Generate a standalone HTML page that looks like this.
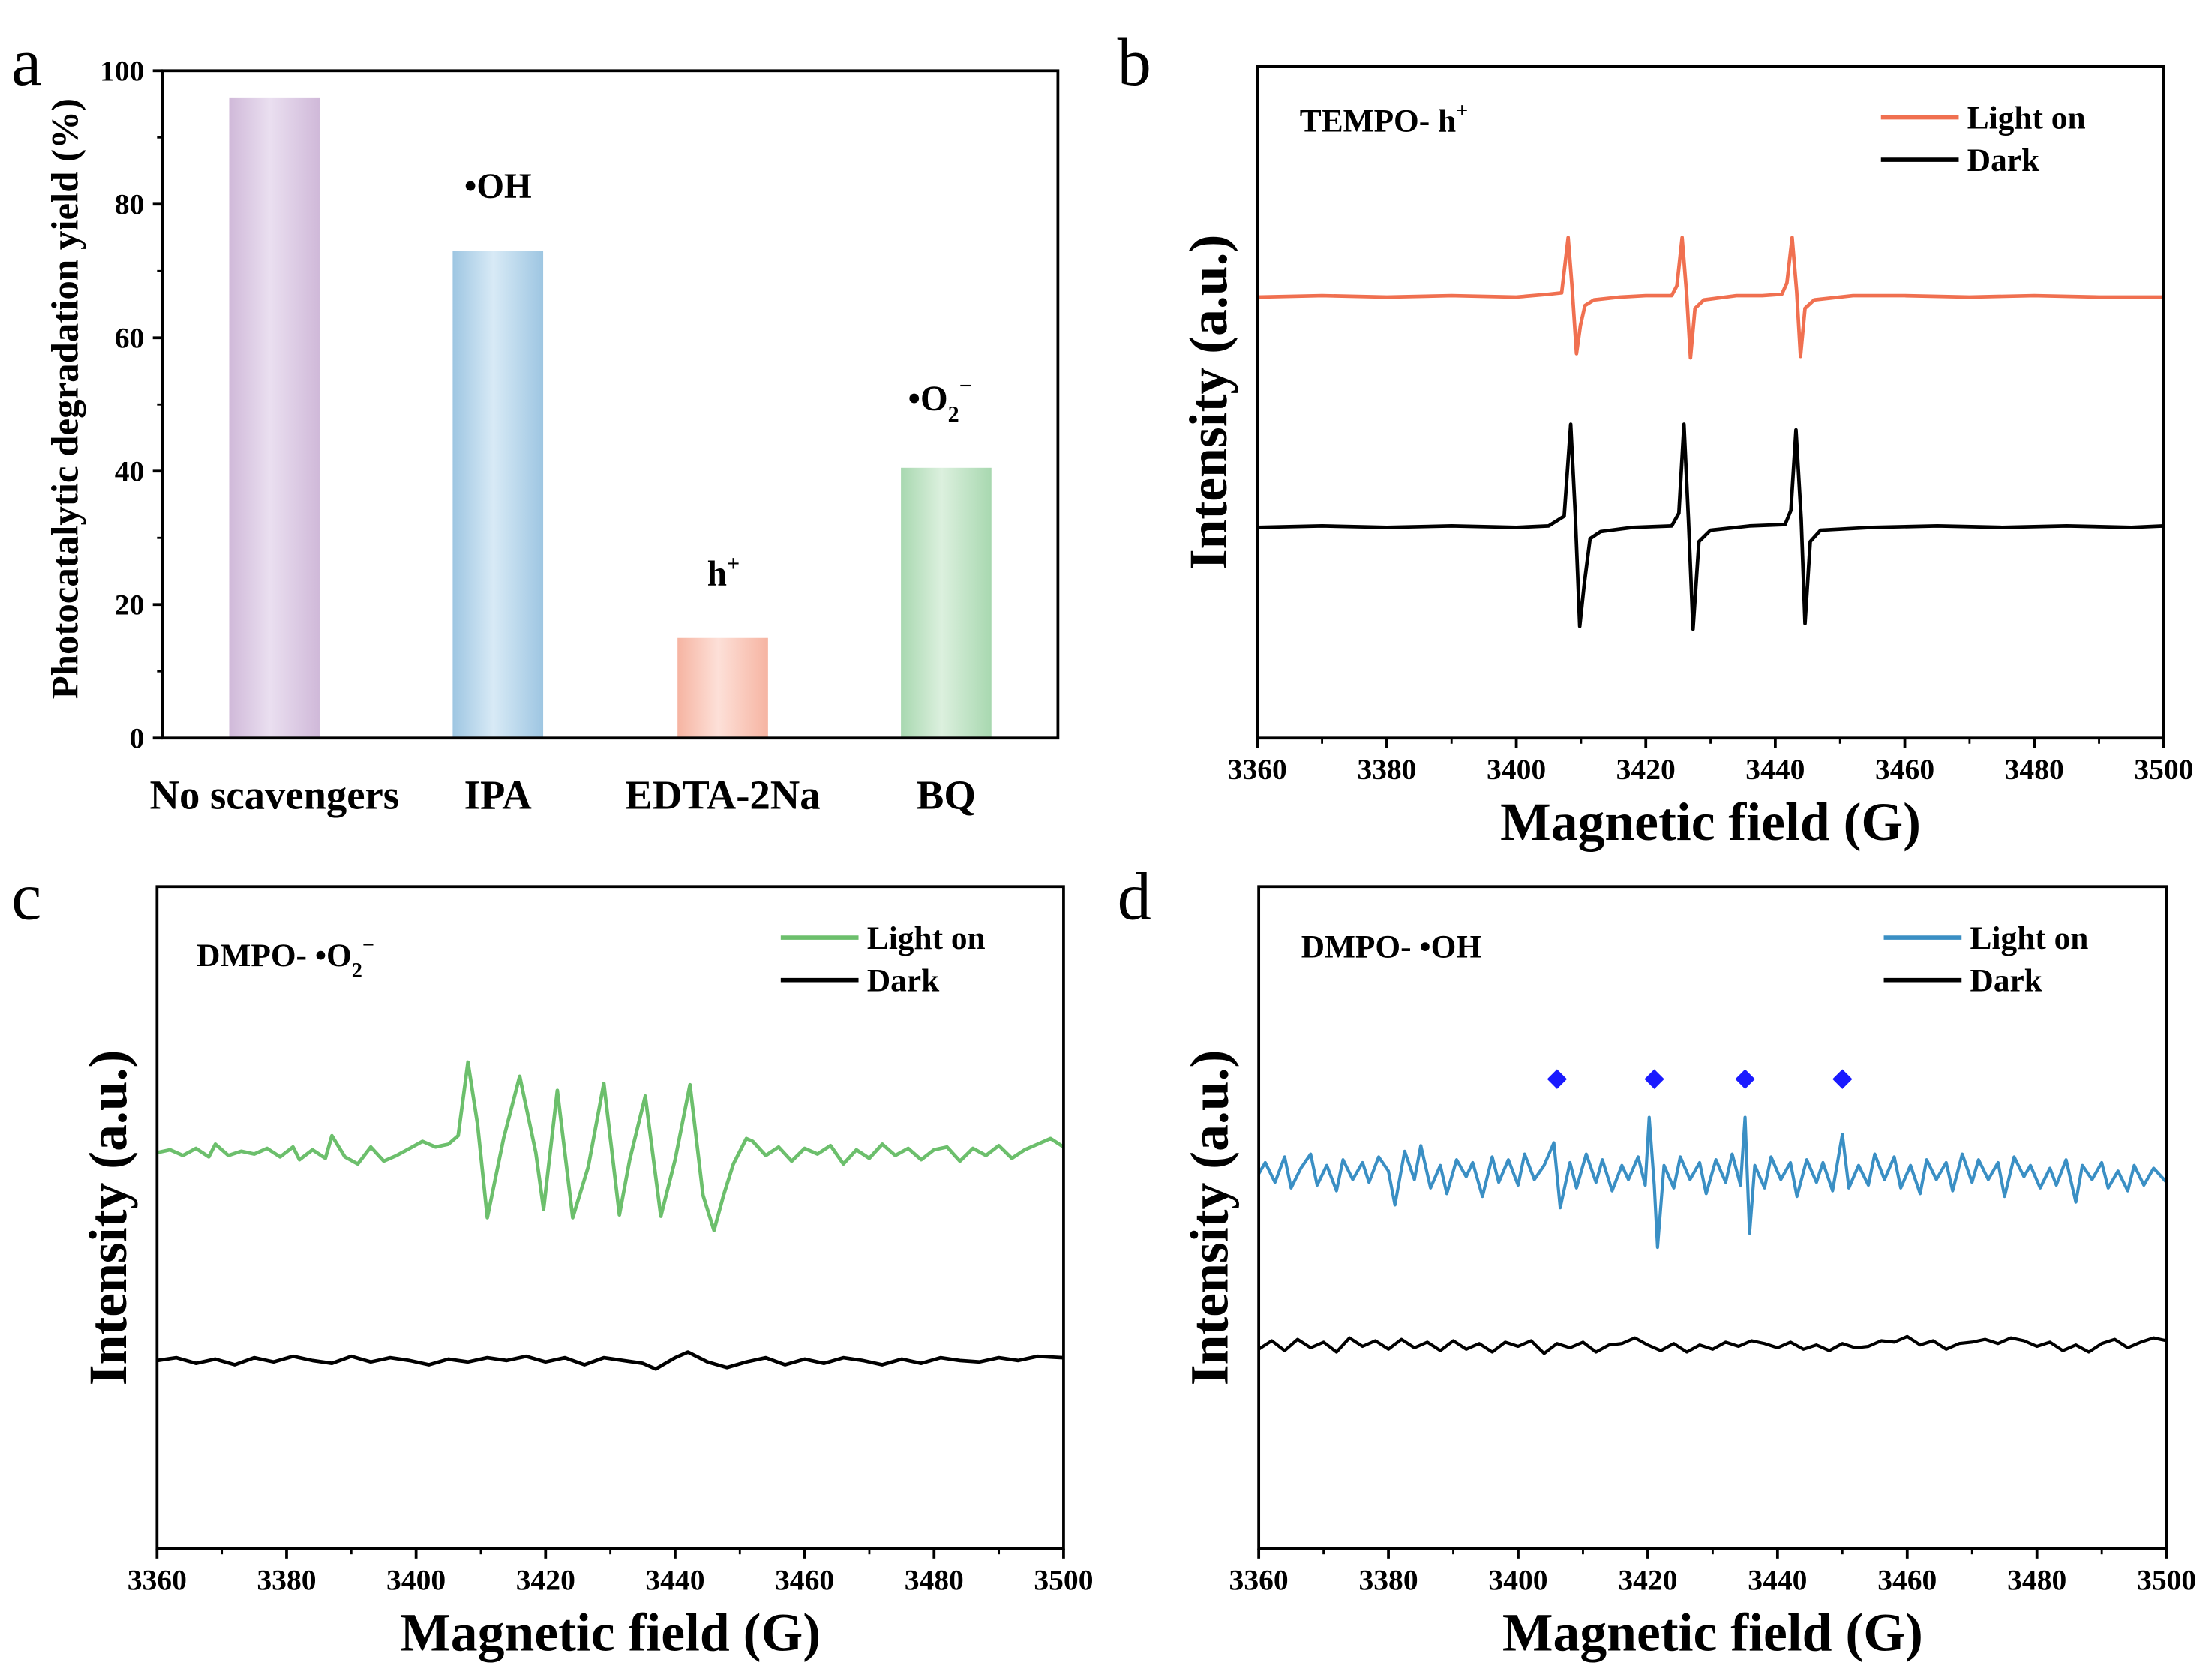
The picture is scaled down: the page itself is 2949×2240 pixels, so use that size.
<!DOCTYPE html>
<html><head><meta charset="utf-8"><style>
html,body{margin:0;padding:0;background:#fff}
svg{display:block}
text{font-family:"Liberation Serif",serif;font-weight:bold;fill:#000}
</style></head><body>
<svg id="fig" width="2949" height="2240" viewBox="0 0 1564 1188" xmlns="http://www.w3.org/2000/svg">
<defs>
<linearGradient id="gP" x1="0" x2="1"><stop offset="0" stop-color="#d0b9d9"/><stop offset="0.45" stop-color="#eadff0"/><stop offset="1" stop-color="#d0b9d9"/></linearGradient>
<linearGradient id="gB" x1="0" x2="1"><stop offset="0" stop-color="#9ec6e2"/><stop offset="0.45" stop-color="#d8eaf6"/><stop offset="1" stop-color="#9ec6e2"/></linearGradient>
<linearGradient id="gR" x1="0" x2="1"><stop offset="0" stop-color="#f6b4a2"/><stop offset="0.45" stop-color="#fde0d8"/><stop offset="1" stop-color="#f6b4a2"/></linearGradient>
<linearGradient id="gG" x1="0" x2="1"><stop offset="0" stop-color="#a8d8b0"/><stop offset="0.45" stop-color="#dcf0de"/><stop offset="1" stop-color="#a8d8b0"/></linearGradient>
</defs>
<g id="pa"></g>
<g id="pb"></g>
<g id="pc"></g>
<g id="pd"></g>
</svg>
<script>
// Panel a data
const barCats = ["No scavengers","IPA","EDTA-2Na","BQ"];
const barVals = [96, 73, 15, 40.5];
const yTicksA = [0,20,40,60,80,100];
// ESR series: field (G) and intensity (relative units)
const bLightX = [3360,3370,3380,3390,3400,3405,3407,3408,3408.6,3409.3,3409.9,3410.6,3412,3416,3420,3424,3424.8,3425.6,3426.3,3426.9,3427.6,3429,3434,3438,3441,3441.8,3442.6,3443.3,3443.9,3444.6,3446,3452,3460,3470,3480,3490,3500];
const bLightY = [0,1,0,1,0,2,3,42,8,-40,-20,-6,-2,0,1,1,8,42,2,-43,-8,-2,1,1,2,10,42,4,-42,-8,-2,1,1,0,1,0,0];
const bDarkX = [3360,3370,3380,3390,3400,3405,3407.4,3408.4,3409.1,3409.8,3410.5,3411.4,3413,3418,3424,3425.1,3425.9,3426.6,3427.3,3428.2,3430,3436,3441.5,3442.4,3443.2,3444,3444.6,3445.4,3447,3455,3465,3475,3485,3495,3500];
const bDarkY = [0,1,0,1,0,1,8,73,10,-70,-40,-8,-3,0,1,10,73,5,-72,-10,-2,1,2,12,69,6,-68,-10,-2,0,1,0,1,0,1];
const cLightX = [3360,3362,3364,3366,3368,3369,3371,3373,3375,3377,3379,3381,3382,3384,3386,3387,3389,3391,3393,3395,3397,3399,3401,3403,3405,3406.5,3408,3409.5,3411,3413.5,3416,3418.5,3419.7,3421.8,3424.2,3426.6,3429,3431.4,3433,3435.4,3437.8,3440,3442.3,3444.3,3446,3447.5,3449,3451,3452,3454,3456,3458,3460,3462,3464,3466,3468,3470,3472,3474,3476,3478,3480,3482,3484,3486,3488,3490,3492,3494,3496,3498,3500];
const cLightY = [0,2,-2,3,-3,6,-2,1,-1,3,-3,4,-5,2,-4,12,-3,-8,4,-6,-2,3,8,4,6,12,64,20,-46,10,54,0,-40,44,-46,-10,49,-44,-5,40,-45,-5,48,-30,-55,-30,-8,10,8,-2,4,-6,3,-1,5,-8,2,-4,6,-2,3,-5,2,4,-6,3,-2,5,-4,2,6,10,4];
const cDarkX = [3360,3363,3366,3369,3372,3375,3378,3381,3384,3387,3390,3393,3396,3399,3402,3405,3408,3411,3414,3417,3420,3423,3426,3429,3432,3435,3437,3440,3442,3445,3448,3451,3454,3457,3460,3463,3466,3469,3472,3475,3478,3481,3484,3487,3490,3493,3496,3500];
const cDarkY = [0,2,-2,1,-3,2,-1,3,0,-2,3,-1,2,0,-3,1,-1,2,0,3,-1,2,-3,2,0,-2,-6,2,6,-1,-5,-1,2,-3,1,-2,2,0,-3,1,-2,2,0,-1,2,0,3,2];
const dLightX = [3360,3361,3362.5,3364,3365,3366.5,3368,3369,3370.5,3372,3373,3374.5,3376,3377,3378.5,3380,3381,3382.5,3384,3385,3386.5,3388,3389,3390.5,3392,3393,3394.5,3396,3397,3398.5,3400,3401,3402.5,3404,3405.5,3406.5,3408,3409,3410.5,3412,3413,3414.5,3416,3417,3418.5,3419.6,3420.2,3421,3421.5,3422.5,3424,3425,3426.5,3428,3429,3430.5,3432,3433,3434.3,3435,3435.7,3436.5,3438,3439,3440.5,3442,3443,3444.5,3446,3447,3448.5,3450,3451,3452.5,3454,3455,3456.5,3458,3459,3460.5,3462,3463,3464.5,3466,3467,3468.5,3470,3471,3472.5,3474,3475,3476.5,3478,3479,3480.5,3482,3483,3484.5,3486,3487,3488.5,3490,3491,3492.5,3494,3495,3496.5,3498,3500];
const dLightY = [0,8,-6,12,-10,4,14,-8,6,-12,10,-4,8,-6,12,2,-22,16,-4,20,-10,6,-14,10,-2,8,-16,12,-6,10,-8,14,-4,6,22,-24,8,-10,14,-6,10,-12,6,-4,12,-8,40,-8,-52,6,-10,12,-4,8,-14,10,-6,14,-8,40,-42,6,-10,12,-4,8,-16,10,-6,8,-12,28,-10,6,-8,14,-4,12,-10,6,-14,10,-4,8,-12,14,-6,10,-4,8,-16,12,-2,6,-10,4,-8,10,-20,6,-4,8,-10,2,-12,6,-8,4,-6];
const dDarkX = [3360,3362,3364,3366,3368,3370,3372,3374,3376,3378,3380,3382,3384,3386,3388,3390,3392,3394,3396,3398,3400,3402,3404,3406,3408,3410,3412,3414,3416,3418,3420,3422,3424,3426,3428,3430,3432,3434,3436,3438,3440,3442,3444,3446,3448,3450,3452,3454,3456,3458,3460,3462,3464,3466,3468,3470,3472,3474,3476,3478,3480,3482,3484,3486,3488,3490,3492,3494,3496,3498,3500];
const dDarkY = [-2,4,-3,5,-1,3,-4,6,0,4,-2,5,-1,3,-3,4,-2,2,-4,3,0,4,-5,2,-1,3,-4,1,2,6,1,-3,2,-4,1,-2,3,0,4,2,-1,3,-2,1,-3,2,-1,0,4,3,7,1,4,-2,2,3,5,2,6,4,0,3,-3,1,-4,2,5,-1,3,6,4];
const dDiamonds = [3406,3421,3435,3450];
const xTicksESR = [3360,3380,3400,3420,3440,3460,3480,3500];

const NS="http://www.w3.org/2000/svg";
function mk(parent,tag,attrs,txt){const e=document.createElementNS(NS,tag);for(const k in attrs)e.setAttribute(k,attrs[k]);if(txt!==undefined)e.textContent=txt;parent.appendChild(e);return e;}

// ---- Panel a ----
const pa=document.getElementById('pa');
const aL=115,aR=748,aT=50,aB=522;
const yA=v=>aB-(v/100)*(aB-aT);
const grads=['url(#gP)','url(#gB)','url(#gR)','url(#gG)'];
const barCenters=[194,352,511,669];
barVals.forEach((v,i)=>{
  const r=mk(pa,'rect',{x:barCenters[i]-32,y:yA(v),width:64,height:aB-yA(v),fill:grads[i]});
  
  
  const t=mk(pa,'text',{x:barCenters[i],y:572,'font-size':29,'text-anchor':'middle'},barCats[i]);
  
  
});
mk(pa,'rect',{x:aL,y:aT,width:aR-aL,height:aB-aT,fill:'none',stroke:'#000','stroke-width':2,});
yTicksA.forEach(v=>{
  mk(pa,'line',{x1:aL-7,x2:aL,y1:yA(v),y2:yA(v),stroke:'#000','stroke-width':2});
  const t=mk(pa,'text',{x:aL-13,y:yA(v)+7,'font-size':21,'text-anchor':'end'},v);
  
  
  if(v<100) mk(pa,'line',{x1:aL-4,x2:aL,y1:yA(v+10),y2:yA(v+10),stroke:'#000','stroke-width':1.5});
});
mk(pa,'text',{x:55,y:282,'font-size':27,'text-anchor':'middle',transform:'rotate(-90 55 282)',},'Photocatalytic degradation yield (%)');
mk(pa,'text',{x:8,y:60,'font-size':48,style:'font-weight:normal',},'a');
mk(pa,'text',{x:352,y:140,'font-size':25,'text-anchor':'middle',},'•OH');
const hT=mk(pa,'text',{x:500,y:414,'font-size':25,},'h');mk(hT,'tspan',{dy:-10,'font-size':16},'+');
const oT=mk(pa,'text',{x:642,y:290,'font-size':25,},'•O');mk(oT,'tspan',{dy:8,'font-size':16},'2');mk(oT,'tspan',{dy:-20,'font-size':16},'−');

// ---- ESR panels ----
function esr(g,box,letter,letterPos,title,series,legend,color){
  const [L,R,T,B]=box;
  const xs=v=>L+(v-3360)/140*(R-L);
  series.forEach(s=>{
    let d='';s.x.forEach((xv,i)=>{d+=(i?'L':'M')+xs(xv).toFixed(1)+' '+(s.base-s.y[i]).toFixed(1);});
    const p=mk(g,'path',{d:d,fill:'none',stroke:s.color,'stroke-width':s.w||2.5,'stroke-linejoin':'round'});
    
    
  });
  mk(g,'rect',{x:L,y:T,width:R-L,height:B-T,fill:'none',stroke:'#000','stroke-width':2,});
  xTicksESR.forEach(v=>{
    mk(g,'line',{x1:xs(v),x2:xs(v),y1:B,y2:B+7,stroke:'#000','stroke-width':2});
    if(v<3500) mk(g,'line',{x1:xs(v+10),x2:xs(v+10),y1:B,y2:B+4,stroke:'#000','stroke-width':1.5});
    const t=mk(g,'text',{x:xs(v),y:B+29,'font-size':21,'text-anchor':'middle'},v);
    
    
  });
  mk(g,'text',{x:(L+R)/2,y:B+72,'font-size':38,'text-anchor':'middle',},'Magnetic field (G)');
  const cy=(T+B)/2;
  mk(g,'text',{x:L-22,y:cy,'font-size':38,'text-anchor':'middle',transform:`rotate(-90 ${L-22} ${cy})`,},'Intensity (a.u.)');
  mk(g,'text',{x:letterPos[0],y:letterPos[1],'font-size':48,style:'font-weight:normal',},letter);
  title(g,L,T);
  const lx=R-200,ly=T+36;
  mk(g,'line',{x1:lx,x2:lx+55,y1:ly,y2:ly,stroke:color,'stroke-width':3,});
  mk(g,'text',{x:lx+61,y:ly+8,'font-size':23,},'Light on');
  mk(g,'line',{x1:lx,x2:lx+55,y1:ly+30,y2:ly+30,stroke:'#000','stroke-width':3,});
  mk(g,'text',{x:lx+61,y:ly+38,'font-size':23,},'Dark');
  return xs;
}
esr(document.getElementById('pb'),[889,1530,47,522],'b',[790,60],(g,L,T)=>{
  const t=mk(g,'text',{x:L+30,y:T+46,'font-size':23,},'TEMPO- h');mk(t,'tspan',{dy:-10,'font-size':15},'+');
},[{x:bLightX,y:bLightY,base:210,color:'#f07050',name:'light-on-line'},{x:bDarkX,y:bDarkY,base:373,color:'#000',name:'dark-line'}],null,'#f07050');
esr(document.getElementById('pc'),[111,752,627,1095],'c',[8,650],(g,L,T)=>{
  const t=mk(g,'text',{x:L+28,y:T+56,'font-size':23,},'DMPO- •O');mk(t,'tspan',{dy:8,'font-size':15},'2');mk(t,'tspan',{dy:-18,'font-size':15},'−');
},[{x:cLightX,y:cLightY,base:815,color:'#6cbf6c',name:'light-on-line'},{x:cDarkX,y:cDarkY,base:962,color:'#000',name:'dark-line'}],null,'#6cbf6c');
const xsD=esr(document.getElementById('pd'),[890,1532,627,1095],'d',[790,650],(g,L,T)=>{
  mk(g,'text',{x:L+30,y:T+50,'font-size':23,},'DMPO- •OH');
},[{x:dLightX,y:dLightY,base:830,color:'#3a8fc4',name:'light-on-line',w:2.2},{x:dDarkX,y:dDarkY,base:952,color:'#000',name:'dark-line',w:2.2}],null,'#3a8fc4');
const pd=document.getElementById('pd');
dDiamonds.forEach(v=>{
  const x=xsD(v),y=763;
  const p=mk(pd,'polygon',{points:`${x},${y-7} ${x+7},${y} ${x},${y+7} ${x-7},${y}`,fill:'#1a1aff'});
  
  
});
</script>
</body></html>
